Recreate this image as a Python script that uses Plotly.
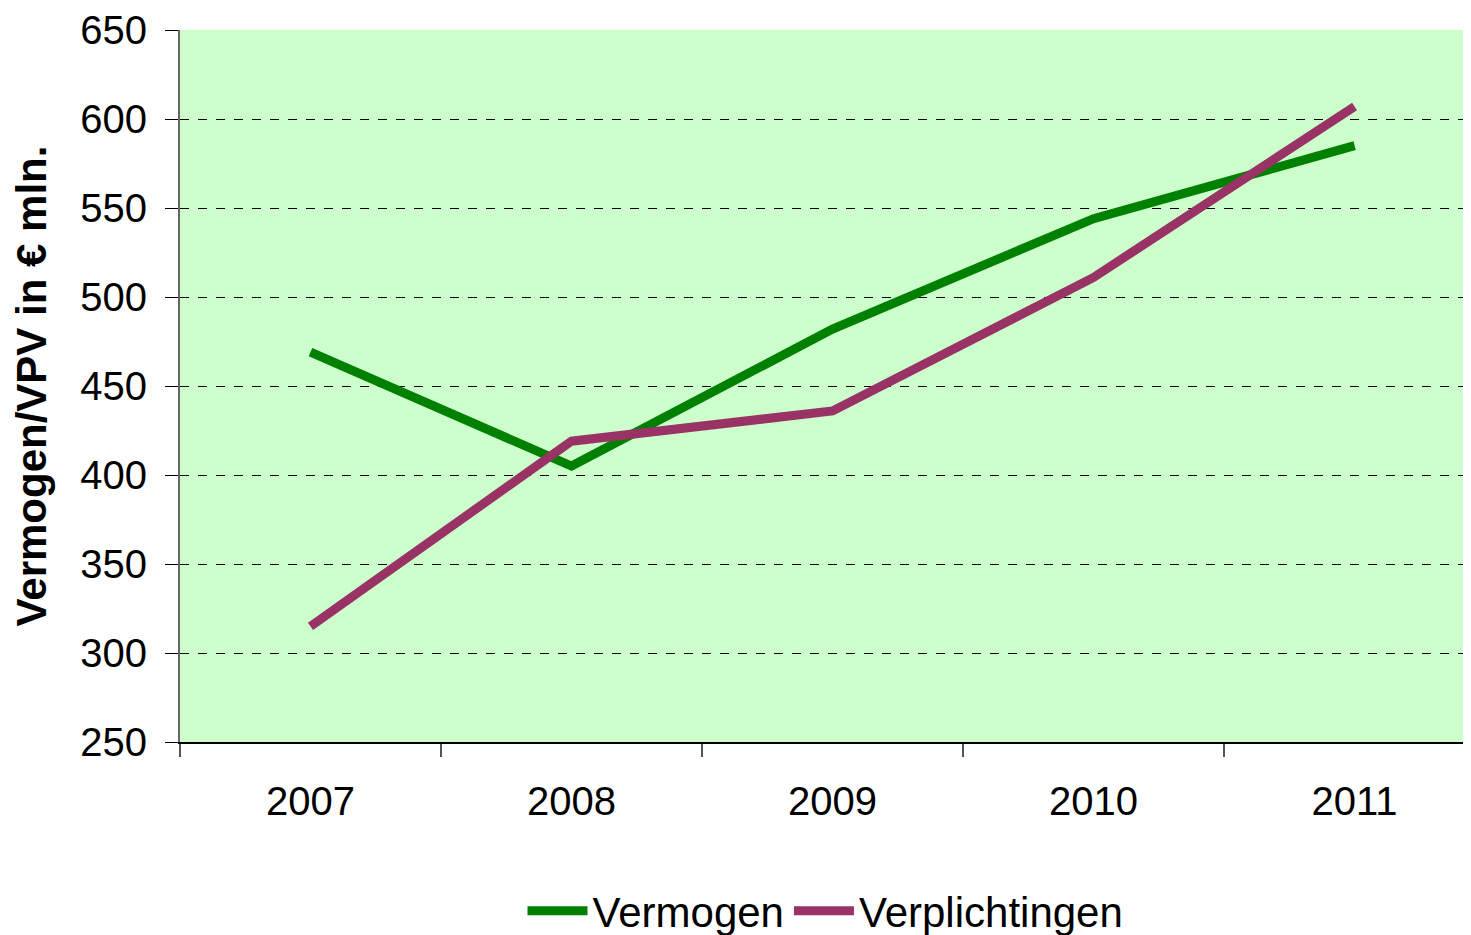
import plotly.graph_objects as go

years = ["2007", "2008", "2009", "2010", "2011"]
vermogen = [469, 405, 482, 544, 585]
verplichtingen = [315, 419, 436, 511, 607]
y_ticks = [250, 300, 350, 400, 450, 500, 550, 600, 650]

FONT = "Liberation Sans, Arial, sans-serif"

fig = go.Figure()
fig.add_trace(go.Scatter(x=years, y=vermogen, name="Vermogen", mode="lines",
                         line=dict(color="#008000", width=9)))
fig.add_trace(go.Scatter(x=years, y=verplichtingen, name="Verplichtingen", mode="lines",
                         line=dict(color="#993366", width=9)))

fig.update_layout(
    width=1463, height=927,
    margin=dict(l=172, r=0, t=22, b=193),
    paper_bgcolor="white", plot_bgcolor="#CCFFCC",
    font=dict(family=FONT, color="black", size=40),
    showlegend=True,
    legend=dict(orientation="h", x=0.5, xanchor="center",
                yref="container", y=0.026, yanchor="middle",
                font=dict(size=42), itemwidth=60, bgcolor="rgba(0,0,0,0)"),
)
fig.update_xaxes(
    type="category", range=[-0.5, 4.446],
    tickson="boundaries", ticks="outside", ticklen=13, tickcolor="#555555", tickwidth=2,
    showline=True, linecolor="black", linewidth=2,
    showgrid=False, zeroline=False,
    tickfont=dict(size=40), ticklabelstandoff=23,
)
fig.update_yaxes(
    range=[250, 650], tickvals=y_ticks,
    ticks="outside", ticklen=13, tickcolor="black", tickwidth=1,
    showline=True, linecolor="#666666", linewidth=2,
    showgrid=True, gridcolor="black", gridwidth=1, griddash="dash",
    zeroline=False,
    tickfont=dict(size=40), ticklabelstandoff=10,
    title=dict(text="<b>Vermogen/VPV in € mln.</b>", font=dict(size=42), standoff=36),
)
fig.write_html("out.html")
